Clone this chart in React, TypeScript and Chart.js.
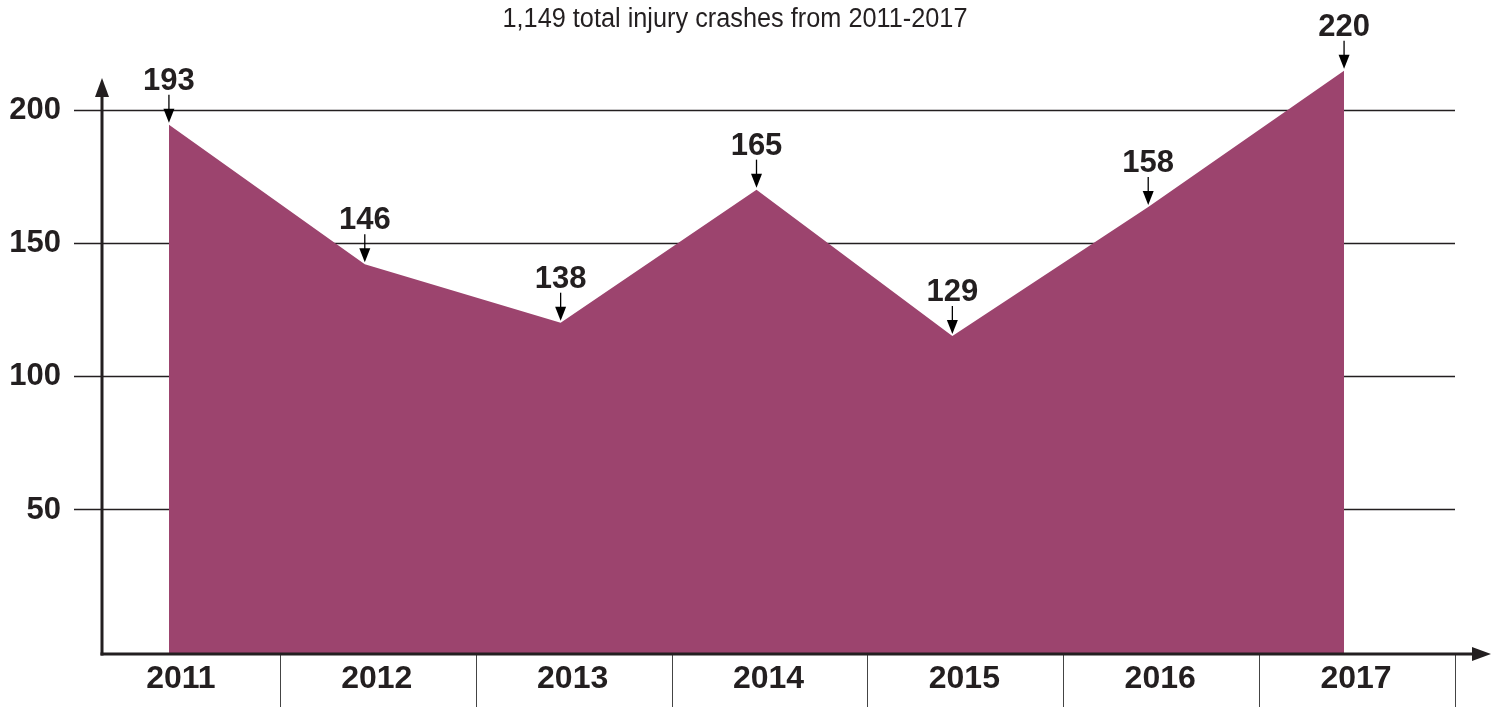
import React, { useEffect, useRef } from "react";
import { Chart, registerables } from "chart.js";

Chart.register(...registerables);

const years = ["2011", "2012", "2013", "2014", "2015", "2016", "2017"];
// numbers printed on the chart (they sum to 1,149)
const crashLabels = [193, 146, 138, 165, 129, 158, 220];
// heights of the drawn area
const plottedHeights = [194.4, 142, 120, 170, 115, 163.5, 214.7];
const yTicks = [50, 100, 150, 200];
const subtitle = "1,149 total injury crashes from 2011-2017";

const FILL = "#9C446E";
const INK = "#231f20";
const NUM_FONT = "bold 31px 'Liberation Sans', Arial, Helvetica, sans-serif";

function arrowDown(ctx: CanvasRenderingContext2D, x: number, yTop: number, yTip: number) {
  ctx.save();
  ctx.strokeStyle = "#000";
  ctx.fillStyle = "#000";
  ctx.lineWidth = 1.3;
  ctx.beginPath();
  ctx.moveTo(x, yTop);
  ctx.lineTo(x, yTip - 10);
  ctx.stroke();
  ctx.beginPath();
  ctx.moveTo(x, yTip);
  ctx.lineTo(x - 5.5, yTip - 14);
  ctx.lineTo(x + 5.5, yTip - 14);
  ctx.closePath();
  ctx.fill();
  ctx.restore();
}

const decorPlugin = {
  id: "decor",
  beforeDatasetsDraw(chart: any) {
    const ctx = chart.ctx as CanvasRenderingContext2D;
    const y = chart.scales.y;
    const x = chart.scales.x;
    const half = (x.getPixelForValue(1) - x.getPixelForValue(0)) / 2;
    const right = x.getPixelForValue(years.length - 1) + half + 13;
    ctx.save();
    ctx.strokeStyle = INK;
    ctx.lineWidth = 1.3;
    for (const t of yTicks) {
      const py = Math.round(y.getPixelForValue(t)) + 0.5;
      ctx.beginPath();
      ctx.moveTo(74, py);
      ctx.lineTo(right, py);
      ctx.stroke();
    }
    ctx.restore();
  },
  afterDatasetsDraw(chart: any) {
    const ctx = chart.ctx as CanvasRenderingContext2D;
    const y = chart.scales.y;
    const x = chart.scales.x;
    const area = chart.chartArea;
    const axisX = 102;
    const axisY = area.bottom;
    const half = (x.getPixelForValue(1) - x.getPixelForValue(0)) / 2;

    ctx.save();
    // y tick labels
    ctx.fillStyle = INK;
    ctx.font = NUM_FONT;
    ctx.textAlign = "right";
    ctx.textBaseline = "middle";
    for (const t of yTicks) {
      ctx.fillText(String(t), 61, y.getPixelForValue(t) + 1);
    }

    // category separators and labels
    ctx.strokeStyle = "#444";
    ctx.lineWidth = 1;
    for (let i = 0; i < years.length; i++) {
      const bx = Math.round(x.getPixelForValue(i) + half + 13) + 0.5;
      ctx.beginPath();
      ctx.moveTo(bx, axisY);
      ctx.lineTo(bx, 707);
      ctx.stroke();
    }
    ctx.font = "bold 32px 'Liberation Sans', Arial, Helvetica, sans-serif";
    ctx.textAlign = "center";
    ctx.textBaseline = "middle";
    for (let i = 0; i < years.length; i++) {
      ctx.fillText(years[i], x.getPixelForValue(i) + 12, 679);
    }

    // axes with arrows
    ctx.strokeStyle = INK;
    ctx.fillStyle = INK;
    ctx.lineWidth = 3;
    ctx.beginPath();
    ctx.moveTo(axisX, axisY + 1.5);
    ctx.lineTo(axisX, 92);
    ctx.stroke();
    ctx.beginPath();
    ctx.moveTo(axisX, 78);
    ctx.lineTo(axisX - 7, 97);
    ctx.lineTo(axisX + 7, 97);
    ctx.closePath();
    ctx.fill();

    ctx.beginPath();
    ctx.moveTo(axisX - 1.5, axisY);
    ctx.lineTo(1476, axisY);
    ctx.stroke();
    ctx.beginPath();
    ctx.moveTo(1491, axisY);
    ctx.lineTo(1472, axisY - 7);
    ctx.lineTo(1472, axisY + 7);
    ctx.closePath();
    ctx.fill();

    // value labels with arrows
    ctx.font = NUM_FONT;
    ctx.textAlign = "center";
    ctx.textBaseline = "alphabetic";
    ctx.fillStyle = INK;
    for (let i = 0; i < years.length; i++) {
      const px = x.getPixelForValue(i);
      const py = y.getPixelForValue(plottedHeights[i]);
      const tip = py - 2;
      const top = tip - 28;
      arrowDown(ctx, px, top, tip);
      ctx.fillStyle = INK;
      ctx.fillText(String(crashLabels[i]), px, top - 5);
    }

    // subtitle (condensed look via horizontal scaling)
    ctx.font = "27px 'Liberation Sans', Arial, sans-serif";
    ctx.textAlign = "center";
    ctx.textBaseline = "alphabetic";
    ctx.fillStyle = INK;
    const w = ctx.measureText(subtitle).width;
    const sx = Math.min(1, 465 / w);
    ctx.translate(735, 27);
    ctx.scale(sx, 1);
    ctx.fillText(subtitle, 0, 0);
    ctx.restore();
  },
};

export default function App() {
  const ref = useRef<HTMLCanvasElement | null>(null);

  useEffect(() => {
    document.body.style.margin = "0";
    if (!ref.current) return;
    const chart = new Chart(ref.current, {
      type: "line",
      data: {
        labels: years,
        datasets: [
          {
            data: plottedHeights,
            backgroundColor: FILL,
            borderColor: FILL,
            borderWidth: 0,
            fill: "start",
            pointRadius: 0,
            tension: 0,
          },
        ],
      },
      options: {
        animation: false,
        responsive: false,
        layout: { padding: { left: 71, right: 57, top: 30, bottom: 53 } },
        plugins: { legend: { display: false }, tooltip: { enabled: false } },
        scales: {
          x: { display: false, offset: true },
          y: { display: false, min: -4.5, max: 230 },
        },
      },
      plugins: [decorPlugin],
    });
    return () => chart.destroy();
  }, []);

  return (
    <div style={{ width: 1499, height: 707, background: "#fff" }}>
      <canvas ref={ref} width={1499} height={707} style={{ display: "block" }} />
    </div>
  );
}
